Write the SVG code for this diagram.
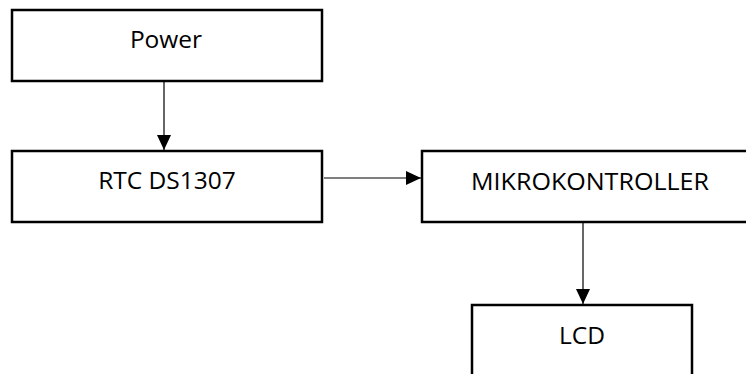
<svg xmlns="http://www.w3.org/2000/svg" width="746" height="374" viewBox="0 0 746 374">
  <style>
    .box { fill: #ffffff; stroke: #000000; stroke-width: 2.5; }
    .lbl { font-family: "Open Sans", "Liberation Sans", sans-serif; font-size: 24.5px; fill: #000000; text-anchor: middle; }
    .conn { stroke: #000000; stroke-width: 1.2; fill: none; marker-end: url(#arrow); }
  </style>
  <defs>
    <marker id="arrow" markerUnits="userSpaceOnUse" markerWidth="16" markerHeight="16" viewBox="0 0 16 16" refX="15" refY="8" orient="auto">
      <path d="M0,1 L15,8 L0,15 Z" fill="#000000"/>
    </marker>
  </defs>
  <rect width="746" height="374" fill="#ffffff"/>
  <g id="power">
    <rect class="box" x="12" y="10" width="310" height="71"/>
    <text class="lbl" x="166" y="48">Power</text>
  </g>
  <g id="rtc">
    <rect class="box" x="12" y="151" width="310" height="71"/>
    <text class="lbl" x="167" y="189">RTC DS1307</text>
  </g>
  <g id="mikrokontroller">
    <rect class="box" x="422" y="151" width="340" height="71"/>
    <text class="lbl" x="590" y="190" textLength="238" lengthAdjust="spacingAndGlyphs">MIKROKONTROLLER</text>
  </g>
  <g id="lcd">
    <rect class="box" x="472" y="305" width="220" height="80"/>
    <text class="lbl" x="582" y="344">LCD</text>
  </g>
  <g id="connectors">
    <line class="conn" x1="164" y1="81" x2="164" y2="150"/>
    <line class="conn" x1="324" y1="178" x2="421" y2="178"/>
    <line class="conn" x1="583" y1="222" x2="583" y2="304"/>
  </g>
</svg>
